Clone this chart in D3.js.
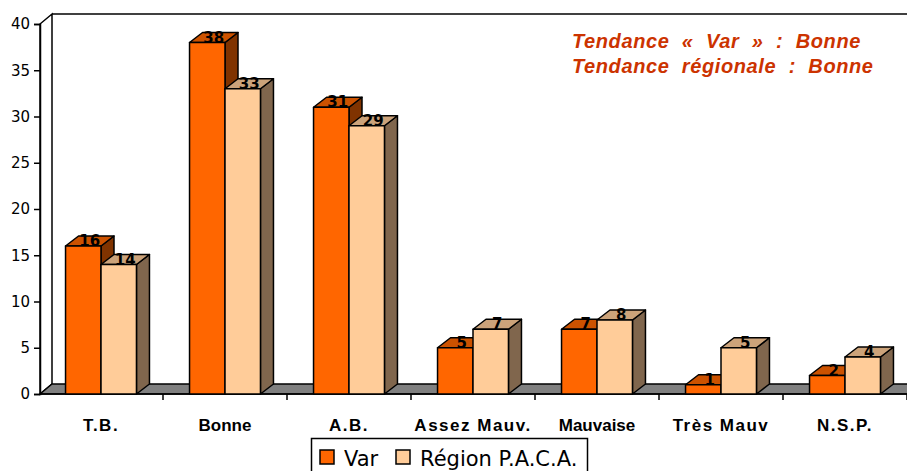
<!DOCTYPE html>
<html>
<head>
<meta charset="utf-8">
<script src="https://cdn.jsdelivr.net/npm/d3@7"></script>
<style>
  body { margin: 0; background: #fff; }
  svg { display: block; }
</style>
</head>
<body>
<div id="chart"></div>
<script>
// data
const categories = ["T.B.", "Bonne", "A.B.", "Assez Mauv.", "Mauvaise", "Très Mauv", "N.S.P."];
const varValues = [16, 38, 31, 5, 7, 1, 2];
const pacaValues = [14, 33, 29, 7, 8, 5, 4];
const seriesNames = ["Var", "Région P.A.C.A."];
const yTicks = [0, 5, 10, 15, 20, 25, 30, 35, 40];
const notes = ["Tendance « Var » : Bonne", "Tendance régionale : Bonne"];

const width = 907, height = 471;
const depth = {dx: 13, dy: 10};
const wallDepth = {dx: 12, dy: 10};

const colors = [
  {front: "#FF6600", top: "#CC5200", side: "#803300"},
  {front: "#FFCC99", top: "#CCA37A", side: "#80664D"}
];

const svg = d3.select("#chart")
  .append("svg")
  .attr("width", width)
  .attr("height", height);

const x = d3.scaleBand()
  .domain(categories)
  .range([39, 907]);

const y = d3.scaleLinear()
  .domain([0, 40])
  .range([394, 24]);

const x0 = 40, yBase = y(0), yTop = y(40);

// left wall
svg.append("path")
  .attr("d", `M${x0},${yBase}L${x0},${yTop}L${x0 + wallDepth.dx},${yTop - wallDepth.dy}L${x0 + wallDepth.dx},${yBase - wallDepth.dy}Z`)
  .attr("fill", "#fff")
  .attr("stroke", "#000")
  .attr("stroke-width", 1.5);

// back wall top edge
svg.append("line")
  .attr("x1", x0 + wallDepth.dx).attr("x2", width + 5)
  .attr("y1", yTop - wallDepth.dy).attr("y2", yTop - wallDepth.dy)
  .attr("stroke", "#000")
  .attr("stroke-width", 1.5);

// floor
svg.append("path")
  .attr("d", `M${x0},${yBase}L${x0 + wallDepth.dx},${yBase - wallDepth.dy}L${width + 20},${yBase - wallDepth.dy}L${width + 20},${yBase}Z`)
  .attr("fill", "#808080")
  .attr("stroke", "#000")
  .attr("stroke-width", 1.5);

// y axis
const yAxis = svg.append("g")
  .attr("transform", `translate(${x0},0)`)
  .call(d3.axisLeft(y).tickValues(yTicks).tickSize(6).tickPadding(4));
yAxis.select(".domain").attr("stroke-width", 1.5);
yAxis.selectAll(".tick line").attr("stroke-width", 1.5);
yAxis.selectAll("text")
  .attr("font-family", "DejaVu Sans, Verdana, sans-serif")
  .attr("font-size", 15)
  .attr("fill", "#000");

// x axis ticks at category boundaries
const xBounds = categories.map(c => x(c) + x.bandwidth());
svg.selectAll(".xtick")
  .data(xBounds)
  .join("line")
  .attr("class", "xtick")
  .attr("x1", d => d).attr("x2", d => d)
  .attr("y1", yBase).attr("y2", yBase + 6)
  .attr("stroke", "#000")
  .attr("stroke-width", 1.5);
svg.append("line")
  .attr("x1", x0).attr("x2", width + 5)
  .attr("y1", yBase).attr("y2", yBase)
  .attr("stroke", "#000")
  .attr("stroke-width", 1.5);

// category labels
const narrow = ["Bonne", "Mauvaise"];
svg.selectAll(".xlabel")
  .data(categories)
  .join("text")
  .attr("class", "xlabel")
  .attr("x", d => x(d) + x.bandwidth() / 2)
  .attr("y", 431)
  .attr("text-anchor", "middle")
  .attr("font-family", "Liberation Sans, Arial, sans-serif")
  .attr("font-weight", "bold")
  .attr("font-size", 17)
  .attr("letter-spacing", d => narrow.includes(d) ? 0 : 1.5)
  .text(d => d);

// bars
const barW = x.bandwidth() * 0.286;
const bars = [];
categories.forEach((c, i) => {
  [varValues[i], pacaValues[i]].forEach((v, s) => {
    const left = x(c) + x.bandwidth() / 2 - barW + s * barW;
    bars.push({c, v, s, left, right: left + barW, top: y(v)});
  });
});

const g = svg.append("g").attr("stroke", "#000").attr("stroke-width", 1.5).attr("stroke-linejoin", "round");
bars.forEach(b => {
  const col = colors[b.s];
  // side
  g.append("path")
    .attr("d", `M${b.right},${yBase}L${b.right + depth.dx},${yBase - depth.dy}L${b.right + depth.dx},${b.top - depth.dy}L${b.right},${b.top}Z`)
    .attr("fill", col.side);
  // top
  g.append("path")
    .attr("d", `M${b.left},${b.top}L${b.left + depth.dx},${b.top - depth.dy}L${b.right + depth.dx},${b.top - depth.dy}L${b.right},${b.top}Z`)
    .attr("fill", col.top);
  // front
  g.append("rect")
    .attr("x", b.left).attr("y", b.top)
    .attr("width", barW).attr("height", yBase - b.top)
    .attr("fill", col.front);
});

// value labels
svg.selectAll(".vlabel")
  .data(bars)
  .join("text")
  .attr("class", "vlabel")
  .attr("x", d => (d.left + d.right) / 2 + depth.dx / 2)
  .attr("y", d => d.top)
  .attr("text-anchor", "middle")
  .attr("font-family", "DejaVu Sans, Verdana, sans-serif")
  .attr("font-weight", "bold")
  .attr("font-size", 15)
  .attr("fill", "#000")
  .text(d => d.v);

// trend notes
svg.selectAll(".note")
  .data(notes)
  .join("text")
  .attr("class", "note")
  .attr("x", 572)
  .attr("y", (d, i) => 48 + i * 25)
  .attr("font-family", "Liberation Sans, Arial, sans-serif")
  .attr("font-weight", "bold")
  .attr("font-style", "italic")
  .attr("font-size", 20)
  .attr("letter-spacing", 0.6)
  .attr("word-spacing", 6.3)
  .attr("fill", "#CC3300")
  .text(d => d);

// legend
const legend = svg.append("g");
legend.append("rect")
  .attr("x", 311.5).attr("y", 438.5)
  .attr("width", 276).attr("height", 40)
  .attr("fill", "#fff")
  .attr("stroke", "#000")
  .attr("stroke-width", 1.5);
const legendX = [320, 396];
seriesNames.forEach((name, s) => {
  legend.append("rect")
    .attr("x", legendX[s]).attr("y", 450)
    .attr("width", 14).attr("height", 14)
    .attr("fill", colors[s].front)
    .attr("stroke", "#000")
    .attr("stroke-width", 1.5);
  legend.append("text")
    .attr("x", legendX[s] + 24)
    .attr("y", 466)
    .attr("font-family", "DejaVu Sans, Verdana, sans-serif")
    .attr("font-size", 21)
    .attr("fill", "#000")
    .text(name);
});
</script>
</body>
</html>
